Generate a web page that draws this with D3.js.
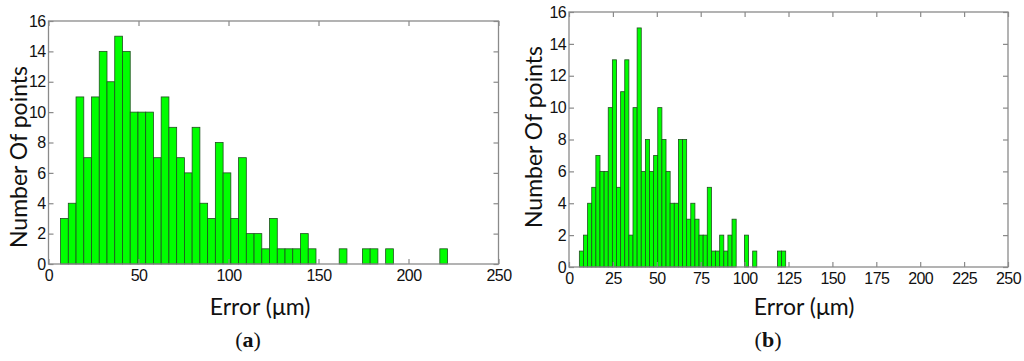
<!DOCTYPE html>
<html>
<head>
<meta charset="utf-8">
<script src="https://cdn.jsdelivr.net/npm/d3@7"></script>
<style>
    body { margin: 0; background: #fff; }
    .tick text { font-family: "Liberation Sans", Arial, sans-serif; font-size: 16px; letter-spacing: -0.6px; fill: #111; }
    .tick line { stroke: #8a8a8a; stroke-width: 1.2; }
    .title { font-family: Lato, "Open Sans", sans-serif; font-size: 23px; fill: #111; }
    .caption { font-family: "Liberation Serif", "Times New Roman", serif; font-size: 22px; fill: #111; }
</style>
</head>
<body>
<svg id="chart" width="1024" height="361"></svg>
<script>
'use strict';

// histogram counts, 50 bins each
const countsA = [3, 4, 11, 7, 11, 14, 12, 15, 14, 10,
                 10, 10, 7, 11, 9, 7, 6, 9, 4, 3,
                 8, 6, 3, 7, 2, 2, 1, 3, 1, 1,
                 1, 2, 1, 0, 0, 0, 1, 0, 0, 1,
                 1, 0, 1, 0, 0, 0, 0, 0, 0, 1];
const countsB = [1, 2, 4, 5, 7, 6, 6, 10, 13, 5,
                 11, 13, 2, 10, 15, 6, 8, 6, 7, 10,
                 8, 6, 4, 4, 8, 8, 3, 4, 3, 2,
                 2, 5, 1, 1, 2, 1, 2, 3, 0, 0,
                 2, 0, 1, 0, 0, 0, 0, 0, 1, 1];

// first bin edge and bin width (µm)
const binStartA = 6.7, binWidthA = 4.3;
const binStartB = 5.9, binWidthB = 2.35;

const yTicks = [0, 2, 4, 6, 8, 10, 12, 14, 16];
const xTicksA = [0, 50, 100, 150, 200, 250];
const xTicksB = [0, 25, 50, 75, 100, 125, 150, 175, 200, 225, 250];

const svg = d3.select("#chart");

/**
 * Draw one histogram panel
 */
function drawPanel(p) {
    const x = d3.scaleLinear().domain([0, 250]).range([p.left, p.right]);
    const y = d3.scaleLinear().domain([0, 16]).range([p.bottom, p.top]);
    const g = svg.append("g");

    const bins = p.counts.map((c, i) => ({
        x0: p.binStart + i * p.binWidth,
        x1: p.binStart + (i + 1) * p.binWidth,
        n: c
    })).filter(d => d.n > 0);

    g.selectAll("rect.bar")
        .data(bins)
        .enter()
        .append("rect")
        .attr("class", "bar")
        .attr("x", d => x(d.x0))
        .attr("width", d => x(d.x1) - x(d.x0))
        .attr("y", d => y(d.n))
        .attr("height", d => y(0) - y(d.n))
        .attr("fill", "#00ff00")
        .attr("stroke", "#1f4f1f")
        .attr("stroke-width", 0.8);

    // axes, ticks pointing in like matlab
    g.append("g").attr("transform", "translate(0," + p.bottom + ")")
        .call(d3.axisBottom(x).tickValues(p.xTicks).tickSize(-5).tickPadding(6))
        .call(a => a.select(".domain").remove());
    g.append("g").attr("transform", "translate(0," + p.top + ")")
        .call(d3.axisTop(x).tickValues(p.xTicks).tickSize(-5).tickFormat(""))
        .call(a => a.select(".domain").remove());
    g.append("g").attr("transform", "translate(" + p.left + ",0)")
        .call(d3.axisLeft(y).tickValues(yTicks).tickSize(-5).tickPadding(3))
        .call(a => a.select(".domain").remove());
    g.append("g").attr("transform", "translate(" + p.right + ",0)")
        .call(d3.axisRight(y).tickValues(yTicks).tickSize(-5).tickFormat(""))
        .call(a => a.select(".domain").remove());

    g.selectAll(".tick text").attr("font-family", null).attr("font-size", null);

    g.append("rect")
        .attr("x", p.left).attr("y", p.top)
        .attr("width", p.right - p.left).attr("height", p.bottom - p.top)
        .attr("fill", "none").attr("stroke", "#8a8a8a").attr("stroke-width", 1.3);

    g.append("text").attr("class", "title")
        .attr("text-anchor", "middle")
        .attr("transform", "translate(" + p.yLabelX + "," + p.yLabelY + ") rotate(-90)")
        .text("Number Of points");
    g.append("text").attr("class", "title")
        .attr("text-anchor", "middle")
        .attr("x", p.xLabelX).attr("y", 315)
        .text("Error (μm)");

    const cap = g.append("text").attr("class", "caption")
        .attr("text-anchor", "middle")
        .attr("x", p.capX).attr("y", 347);
    cap.append("tspan").text("(");
    cap.append("tspan").attr("font-weight", "bold").text(p.tag);
    cap.append("tspan").text(")");
}

drawPanel({
    counts: countsA, binStart: binStartA, binWidth: binWidthA, xTicks: xTicksA,
    left: 48.5, right: 498.5, top: 21, bottom: 264,
    yLabelX: 27, yLabelY: 157, xLabelX: 260, capX: 248, tag: "a"
});
drawPanel({
    counts: countsB, binStart: binStartB, binWidth: binWidthB, xTicks: xTicksB,
    left: 569, right: 1008, top: 12, bottom: 267,
    yLabelX: 542, yLabelY: 137, xLabelX: 804, capX: 768, tag: "b"
});
</script>
</body>
</html>
